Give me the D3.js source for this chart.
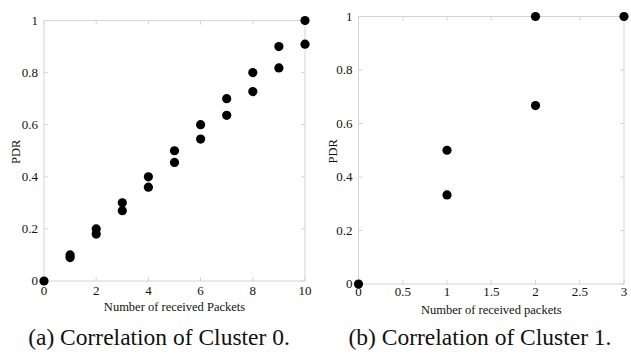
<!DOCTYPE html>
<html>
<head>
<meta charset="utf-8">
<script src="https://cdn.jsdelivr.net/npm/d3@7"></script>
<style>
  body { margin: 0; background: #fff; }
</style>
</head>
<body>
<svg id="chart" width="631" height="363"></svg>
<script>
// cluster 0
const packetsA = [0, 1, 1, 2, 2, 3, 3, 4, 4, 5, 5, 6, 6, 7, 7, 8, 8, 9, 9, 10, 10];
const pdrA = [0, 0.1, 0.09, 0.2, 0.18, 0.3, 0.27, 0.4, 0.36, 0.5, 0.455, 0.6, 0.545,
              0.7, 0.636, 0.8, 0.727, 0.9, 0.818, 1.0, 0.909];
const xTicksA = [0, 2, 4, 6, 8, 10];

// cluster 1
const packetsB = [0, 1, 1, 2, 2, 3];
const pdrB = [0, 0.5, 0.333, 1.0, 0.667, 1.0];
const xTicksB = [0, 0.5, 1, 1.5, 2, 2.5, 3];

const yTicks = [0, 0.2, 0.4, 0.6, 0.8, 1];

const FONT = "'Liberation Serif'";
const svg = d3.select('#chart');

function label(g, x, y, s, size, anchor) {
    return g.append('text').attr('x', x).attr('y', y)
        .attr('text-anchor', anchor)
        .style('font-family', FONT)
        .style('font-size', size + 'px')
        .attr('fill', '#111')
        .text(s);
}

function panel(opt) {
    let x = d3.scaleLinear().domain(opt.xDomain).range([opt.left, opt.right]);
    let y = d3.scaleLinear().domain([0, 1]).range([opt.bottom, opt.top]);
    let g = svg.append('g');

    // frame
    g.append('rect')
        .attr('x', opt.left).attr('y', opt.top)
        .attr('width', opt.right - opt.left).attr('height', opt.bottom - opt.top)
        .attr('fill', 'none').attr('stroke', '#d4d4d4').attr('stroke-width', 1);

    // inner ticks on all sides
    let tk = '#d4d4d4', len = 4;
    opt.xTicks.forEach(t => {
        g.append('line').attr('x1', x(t)).attr('x2', x(t)).attr('y1', opt.top).attr('y2', opt.top + len).attr('stroke', tk);
        g.append('line').attr('x1', x(t)).attr('x2', x(t)).attr('y1', opt.bottom).attr('y2', opt.bottom - len).attr('stroke', tk);
        label(g, x(t), opt.tickY, t, 13, 'middle');
    });
    yTicks.forEach(t => {
        g.append('line').attr('x1', opt.left).attr('x2', opt.left + len).attr('y1', y(t)).attr('y2', y(t)).attr('stroke', tk);
        g.append('line').attr('x1', opt.right).attr('x2', opt.right - len).attr('y1', y(t)).attr('y2', y(t)).attr('stroke', tk);
        label(g, opt.left - 6, y(t) + 4, t, 13, 'end');
    });

    // axis titles
    label(g, 0, 0, 'PDR', 12.5, 'middle')
        .attr('transform', `translate(${opt.yTitleX},${(opt.top + opt.bottom) / 2 + 1}) rotate(-90)`);
    label(g, (opt.left + opt.right) / 2, opt.titleY, opt.xTitle, 12.5, 'middle');

    // points
    g.selectAll('circle').data(opt.xs).enter().append('circle')
        .attr('cx', d => x(d))
        .attr('cy', (d, i) => y(opt.ys[i]))
        .attr('r', 4.6)
        .attr('fill', '#000');

    // caption
    label(svg, opt.capX, 345, opt.caption, 23.5, 'middle');
}

panel({
    xDomain: [0, 10], left: 44, right: 305, top: 20.5, bottom: 281,
    tickY: 295, titleY: 310.5, xTicks: xTicksA, xs: packetsA, ys: pdrA, yTitleX: 20,
    xTitle: 'Number of received Packets', caption: '(a) Correlation of Cluster 0.', capX: 159
});
panel({
    xDomain: [0, 3], left: 358.5, right: 624, top: 16.5, bottom: 284,
    tickY: 296, titleY: 313.5, xTicks: xTicksB, xs: packetsB, ys: pdrB, yTitleX: 337,
    xTitle: 'Number of received packets', caption: '(b) Correlation of Cluster 1.', capX: 480
});
</script>
</body>
</html>
